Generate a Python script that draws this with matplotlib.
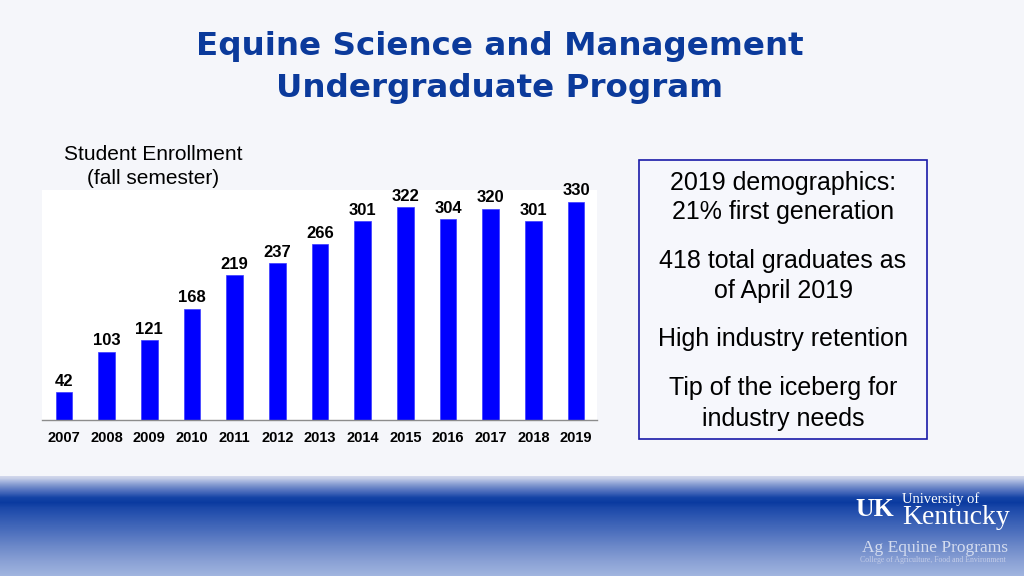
import matplotlib
matplotlib.use("Agg")
import matplotlib.pyplot as plt
import numpy as np
from matplotlib.patches import Rectangle
from matplotlib.colors import to_rgb

years = ["2007", "2008", "2009", "2010", "2011", "2012", "2013",
         "2014", "2015", "2016", "2017", "2018", "2019"]
enrollment = [42, 103, 121, 168, 219, 237, 266, 301, 322, 304, 320, 301, 330]

title_lines = ["Equine Science and Management", "Undergraduate Program"]
subtitle_lines = ["Student Enrollment", "(fall semester)"]
box_lines = [("2019 demographics:", 183), ("21% first generation", 212),
             ("418 total graduates as", 261), ("of April 2019", 291),
             ("High industry retention", 339),
             ("Tip of the iceberg for", 388), ("industry needs", 419)]

plt.rcParams['font.family'] = ['Liberation Sans', 'DejaVu Sans']

W, H = 1024, 576
fig = plt.figure(figsize=(W / 100, H / 100), dpi=100)
fig.patch.set_facecolor("#f5f6fa")

def fx(px):
    return px / W

def fy(py):
    return 1 - py / H

# bottom band gradient
band = fig.add_axes([0, 0, 1, fy(476)])
band.set_axis_off()
stops_y = [0, 3, 6, 10, 14, 18, 22, 27, 32, 40, 55, 70, 85, 100]
stops_c = ["#d6dbee", "#c4cde6", "#a4b4de", "#7d95cd", "#5a78c2", "#3a5fb5",
           "#1544a6", "#0a3aa0", "#1a47a8", "#2b55b0", "#4c6fbd", "#6d89c9",
           "#8aa1d5", "#a2b6e0"]
rows = 100
sc = np.array([to_rgb(c) for c in stops_c])
ys = np.arange(rows)
img = np.zeros((rows, 1, 3))
for k in range(3):
    img[:, 0, k] = np.interp(ys, stops_y, sc[:, k])
band.imshow(img, aspect="auto", extent=[0, 1, 0, 1], interpolation="nearest")

# logo texts
fig.text(fx(875), fy(509), "UK", color="white", fontsize=18.5, fontweight="bold",
         family="Liberation Serif", ha="center", va="center")
fig.text(fx(902), fy(499), "University of", color="white", fontsize=10.5,
         family="Liberation Serif", ha="left", va="center")
fig.text(fx(902), fy(518), "Kentucky", color="white", fontsize=20,
         family="Liberation Serif", ha="left", va="center")
fig.text(fx(935), fy(548), "Ag Equine Programs", color="#d4dcef", fontsize=12.5,
         family="Liberation Serif", ha="center", va="center")
fig.text(fx(933), fy(560), "College of Agriculture, Food and Environment",
         color="#c2cce8", fontsize=5.6, family="Liberation Serif",
         ha="center", va="center")

# titles
fig.text(fx(500), fy(47), title_lines[0], color="#0b3a9b", fontsize=23.4,
         fontweight="bold", family="DejaVu Sans", ha="center", va="center")
fig.text(fx(500), fy(88), title_lines[1], color="#0b3a9b", fontsize=23.4,
         fontweight="bold", family="DejaVu Sans", ha="center", va="center")
fig.text(fx(153), fy(155), subtitle_lines[0], color="black", fontsize=15,
         ha="center", va="center")
fig.text(fx(153), fy(179), subtitle_lines[1], color="black", fontsize=15,
         ha="center", va="center")

# chart
ax = fig.add_axes([fx(42), fy(420), fx(597) - fx(42), fy(190) - fy(420)])
ax.set_facecolor("white")
x = np.arange(len(years))
ax.bar(x, enrollment, width=0.39, color="#0000ff", edgecolor="#3b3bff",
       linewidth=0.5)
for xi, v in zip(x, enrollment):
    ax.annotate(str(v), (xi, v), xytext=(0, 2.5), textcoords="offset points",
                ha="center", va="bottom", fontsize=12, fontweight="bold")
ax.set_xlim(-0.516, 12.49)
ax.set_ylim(0, 348)
ax.set_xticks(x)
ax.set_xticklabels(years, fontsize=10.5, fontweight="bold")
ax.tick_params(axis="x", length=0, pad=8)
ax.set_yticks([])
for s in ["top", "left", "right"]:
    ax.spines[s].set_visible(False)
ax.spines["bottom"].set_color("#8c8c8c")
ax.spines["bottom"].set_linewidth(1.0)

# text box
fig.patches.append(Rectangle((fx(639), fy(439)), fx(927) - fx(639),
                             fy(160) - fy(439), transform=fig.transFigure,
                             facecolor="#f6f7fc", edgecolor="#1a1aa8",
                             linewidth=1.2))
for txt, yy in box_lines:
    fig.text(fx(783), fy(yy), txt, fontsize=18, ha="center", va="center",
             color="black")

fig.savefig("out.png", dpi=100, facecolor=fig.get_facecolor())
